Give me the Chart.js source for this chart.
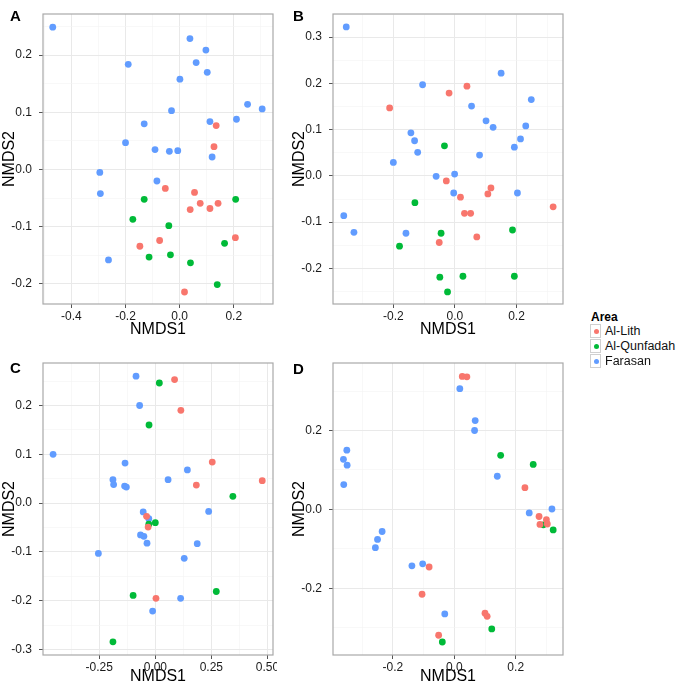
<!DOCTYPE html>
<html>
<head>
<meta charset="utf-8">
<script src="https://cdn.jsdelivr.net/npm/chart.js@4.4.0/dist/chart.umd.min.js"></script>
<style>
  body { margin: 0; background: #fff; width: 680px; height: 686px; position: relative; overflow: hidden;
         font-family: "Liberation Sans", Arial, Helvetica, sans-serif; }
  canvas { position: absolute; }
  .tag { position: absolute; font-weight: bold; font-size: 15px; line-height: 15px; color: #000; }
  .ltitle { position: absolute; left: 591px; top: 311px; font-weight: bold; font-size: 12px; line-height: 12px; }
  .lrow { position: absolute; left: 590px; height: 14px; display: flex; align-items: center; font-size: 12.5px; line-height: 14px; color: #111; }
  .lkey { width: 11px; height: 14px; box-sizing: border-box; border: 1px solid #d0d0d0; position: relative; margin-right: 4px; }
  .lkey i { position: absolute; left: 2.5px; top: 4px; width: 5px; height: 5px; border-radius: 50%; }
</style>
</head>
<body>
<canvas id="panelA" width="277" height="343" style="left:0;top:0"></canvas>
<canvas id="panelB" width="277" height="343" style="left:290px;top:0"></canvas>
<canvas id="panelC" width="277" height="343" style="left:0;top:343px"></canvas>
<canvas id="panelD" width="277" height="343" style="left:290px;top:343px"></canvas>
<div class="tag" style="left:10px;top:8px">A</div>
<div class="tag" style="left:293px;top:8px">B</div>
<div class="tag" style="left:10px;top:360px">C</div>
<div class="tag" style="left:293px;top:361px">D</div>
<div id="legend"></div>
<script>
// groups and colours (ggplot default hues)
var groups = ["Al-Lith", "Al-Qunfadah", "Farasan"];
var groupColors = ["#F8766D", "#00BA38", "#619CFF"];

// ---- Panel A ----
var aLith = [[0.135,0.077],[0.127,0.040],[-0.053,-0.033],[0.055,-0.040],[0.076,-0.059],[0.039,-0.070],
             [0.112,-0.068],[0.142,-0.059],[-0.074,-0.124],[-0.147,-0.134],[0.206,-0.119],[0.018,-0.214]];
var aQunf = [[-0.131,-0.052],[0.207,-0.052],[-0.173,-0.087],[-0.040,-0.098],[0.166,-0.129],[-0.113,-0.153],
             [-0.034,-0.149],[0.040,-0.163],[0.139,-0.201]];
var aFar  = [[-0.469,0.249],[0.038,0.229],[0.097,0.209],[-0.190,0.184],[0.061,0.187],[0.102,0.170],[0.001,0.158],
             [0.251,0.114],[0.305,0.106],[-0.030,0.103],[0.112,0.084],[0.210,0.088],[-0.131,0.080],[-0.200,0.047],
             [-0.091,0.035],[-0.038,0.032],[-0.007,0.033],[0.120,0.022],[-0.295,-0.005],[-0.293,-0.042],
             [-0.084,-0.020],[-0.263,-0.158]];
var aXTicks = [-0.4, -0.2, 0, 0.2];
var aXLabels = ["-0.4", "-0.2", "0.0", "0.2"];
var aYTicks = [-0.2, -0.1, 0, 0.1, 0.2];
var aYLabels = ["-0.2", "-0.1", "0.0", "0.1", "0.2"];
var aXRange = [-0.505, 0.345];
var aYRange = [-0.235, 0.272];

// ---- Panel B ----
var bLith = [[-0.212,0.147],[-0.019,0.179],[0.039,0.194],[-0.028,-0.011],[0.117,-0.026],[0.107,-0.039],
             [0.018,-0.046],[0.031,-0.081],[0.051,-0.081],[0.319,-0.067],[0.071,-0.132],[-0.051,-0.144]];
var bQunf = [[-0.034,0.065],[-0.130,-0.058],[-0.045,-0.124],[0.187,-0.117],[-0.180,-0.152],[-0.049,-0.219],
             [0.026,-0.217],[0.193,-0.217],[-0.024,-0.251]];
var bFar  = [[-0.353,0.322],[0.150,0.222],[-0.105,0.197],[0.248,0.165],[0.054,0.151],[0.101,0.119],[0.124,0.105],
             [0.230,0.108],[-0.143,0.093],[-0.131,0.076],[-0.121,0.051],[0.213,0.080],[0.193,0.062],[0.080,0.045],
             [-0.200,0.029],[-0.061,-0.001],[-0.001,0.004],[-0.004,-0.037],[0.203,-0.037],[-0.361,-0.086],
             [-0.328,-0.122],[-0.159,-0.124]];
var bXTicks = [-0.2, 0, 0.2];
var bXLabels = ["-0.2", "0.0", "0.2"];
var bYTicks = [-0.2, -0.1, 0, 0.1, 0.2, 0.3];
var bYLabels = ["-0.2", "-0.1", "0.0", "0.1", "0.2", "0.3"];
var bXRange = [-0.396, 0.351];
var bYRange = [-0.277, 0.350];

// ---- Panel C ----
var cLith = [[0.086,0.253],[0.114,0.190],[0.254,0.084],[0.183,0.037],[0.477,0.046],[-0.039,-0.027],
             [-0.032,-0.049],[0.003,-0.195]];
var cQunf = [[0.018,0.246],[-0.028,0.160],[-0.029,-0.043],[0.000,-0.040],[0.346,0.014],[-0.099,-0.189],
             [0.272,-0.181],[-0.189,-0.284]];
var cFar  = [[-0.086,0.260],[-0.070,0.200],[-0.456,0.100],[-0.135,0.082],[0.143,0.068],[0.057,0.048],
             [-0.189,0.048],[-0.186,0.038],[-0.137,0.035],[-0.129,0.033],[-0.054,-0.018],[-0.029,-0.032],
             [0.238,-0.017],[-0.066,-0.065],[-0.051,-0.068],[-0.037,-0.082],[0.187,-0.083],[-0.254,-0.103],
             [0.129,-0.113],[0.113,-0.195],[-0.012,-0.221]];
var cXTicks = [-0.25, 0, 0.25, 0.5];
var cXLabels = ["-0.25", "0.00", "0.25", "0.50"];
var cYTicks = [-0.3, -0.2, -0.1, 0, 0.1, 0.2];
var cYLabels = ["-0.3", "-0.2", "-0.1", "0.0", "0.1", "0.2"];
var cXRange = [-0.501, 0.525];
var cYRange = [-0.311, 0.287];

// ---- Panel D ----
var dLith = [[0.026,0.337],[0.041,0.336],[0.230,0.055],[0.276,-0.018],[0.300,-0.026],[0.279,-0.038],
             [0.303,-0.037],[-0.082,-0.146],[-0.105,-0.215],[0.100,-0.263],[0.107,-0.271],[-0.051,-0.319]];
var dQunf = [[0.151,0.137],[0.257,0.114],[0.290,-0.039],[0.322,-0.052],[0.122,-0.303],[-0.039,-0.336]];
var dFar  = [[0.018,0.306],[0.068,0.225],[0.066,0.200],[-0.350,0.150],[-0.361,0.127],[-0.349,0.112],
             [-0.360,0.063],[0.140,0.084],[0.244,-0.009],[0.318,0.001],[-0.235,-0.056],[-0.250,-0.076],
             [-0.257,-0.097],[-0.138,-0.143],[-0.103,-0.138],[-0.031,-0.265]];
var dXTicks = [-0.2, 0, 0.2];
var dXLabels = ["-0.2", "0.0", "0.2"];
var dYTicks = [-0.2, 0, 0.2];
var dYLabels = ["-0.2", "0.0", "0.2"];
var dXRange = [-0.395, 0.354];
var dYRange = [-0.369, 0.371];

var fontFamily = "'Liberation Sans', Arial, Helvetica, sans-serif";

// majors plus ggplot-style minor breaks halfway between them
function tickList(major, labels, range) {
  var step = major[1] - major[0];
  var list = [];
  for (var i = -1; i < major.length; i++) {
    var base = i < 0 ? major[0] - step : major[i];
    if (i >= 0) list.push({ value: base, lab: labels[i], minor: false });
    list.push({ value: base + step / 2, lab: "", minor: true });
  }
  return list.filter(function (t) { return t.value >= range[0] && t.value <= range[1]; });
}

// panel border drawn on top of the grid
var borderPlugin = {
  id: "panelBorder",
  beforeDatasetsDraw: function (chart) {
    var a = chart.chartArea, c = chart.ctx;
    c.save();
    c.strokeStyle = "#a9a9a9";
    c.lineWidth = 1.2;
    c.strokeRect(a.left, a.top, a.right - a.left, a.bottom - a.top);
    c.restore();
  }
};

function axis(ticks, labels, range, title, isX, boxSize, titlePad) {
  var list = tickList(ticks, labels, range);
  return {
    type: "linear",
    min: range[0],
    max: range[1],
    afterBuildTicks: function (s) { s.ticks = list.map(function (t) { return Object.assign({}, t); }); },
    afterFit: function (s) {
      if (isX) { s.height = boxSize; s.paddingLeft = 0; s.paddingRight = 0; }
      else { s.width = boxSize; s.paddingTop = 0; s.paddingBottom = 0; }
    },
    ticks: {
      autoSkip: false,
      maxRotation: 0,
      padding: isX ? 1 : 7,
      color: "#1a1a1a",
      font: { family: fontFamily, size: 12 },
      callback: function (v, i, t) { return t[i].lab; }
    },
    grid: {
      color: function (c) { return c.tick && c.tick.minor ? "#f4f4f4" : "#e9e9e9"; },
      lineWidth: function (c) { return c.tick && c.tick.minor ? 0.6 : 1; },
      drawTicks: true,
      tickLength: 4,
      tickColor: function (c) { return c.tick && c.tick.minor ? "rgba(0,0,0,0)" : "#555"; },
      tickWidth: 1
    },
    border: { display: false },
    title: {
      display: true,
      text: title,
      color: "#000",
      font: { family: fontFamily, size: 16 },
      padding: { top: 0, bottom: titlePad }
    }
  };
}

function makePanel(id, sets, xt, xl, xr, yt, yl, yr, topPad, xHeight, xTitlePad) {
  var datasets = sets.map(function (pts, k) {
    return {
      label: groups[k],
      data: pts.map(function (p) { return { x: p[0], y: p[1] }; }),
      backgroundColor: groupColors[k],
      borderWidth: 0,
      pointRadius: 3.4
    };
  });
  return new Chart(document.getElementById(id), {
    type: "scatter",
    data: { datasets: datasets },
    options: {
      responsive: false,
      animation: false,
      layout: { padding: { top: topPad, right: 0, bottom: 0, left: 0 } },
      plugins: { legend: { display: false }, tooltip: { enabled: false } },
      scales: {
        x: axis(xt, xl, xr, "NMDS1", true, xHeight, xTitlePad),
        y: axis(yt, yl, yr, "NMDS2", false, 43, 0)
      }
    },
    plugins: [borderPlugin]
  });
}

makePanel("panelA", [aLith, aQunf, aFar], aXTicks, aXLabels, aXRange, aYTicks, aYLabels, aYRange, 14, 39, 4);
makePanel("panelB", [bLith, bQunf, bFar], bXTicks, bXLabels, bXRange, bYTicks, bYLabels, bYRange, 14, 39, 4);
makePanel("panelC", [cLith, cQunf, cFar], cXTicks, cXLabels, cXRange, cYTicks, cYLabels, cYRange, 20, 31, 0);
makePanel("panelD", [dLith, dQunf, dFar], dXTicks, dXLabels, dXRange, dYTicks, dYLabels, dYRange, 20, 31, 0);

// shared legend
var leg = document.getElementById("legend");
var html = '<div class="ltitle">Area</div>';
groups.forEach(function (g, k) {
  html += '<div class="lrow" style="top:' + (324 + k * 15) + 'px"><span class="lkey"><i style="background:' +
          groupColors[k] + '"></i></span>' + g + '</div>';
});
leg.innerHTML = html;
</script>
</body>
</html>
